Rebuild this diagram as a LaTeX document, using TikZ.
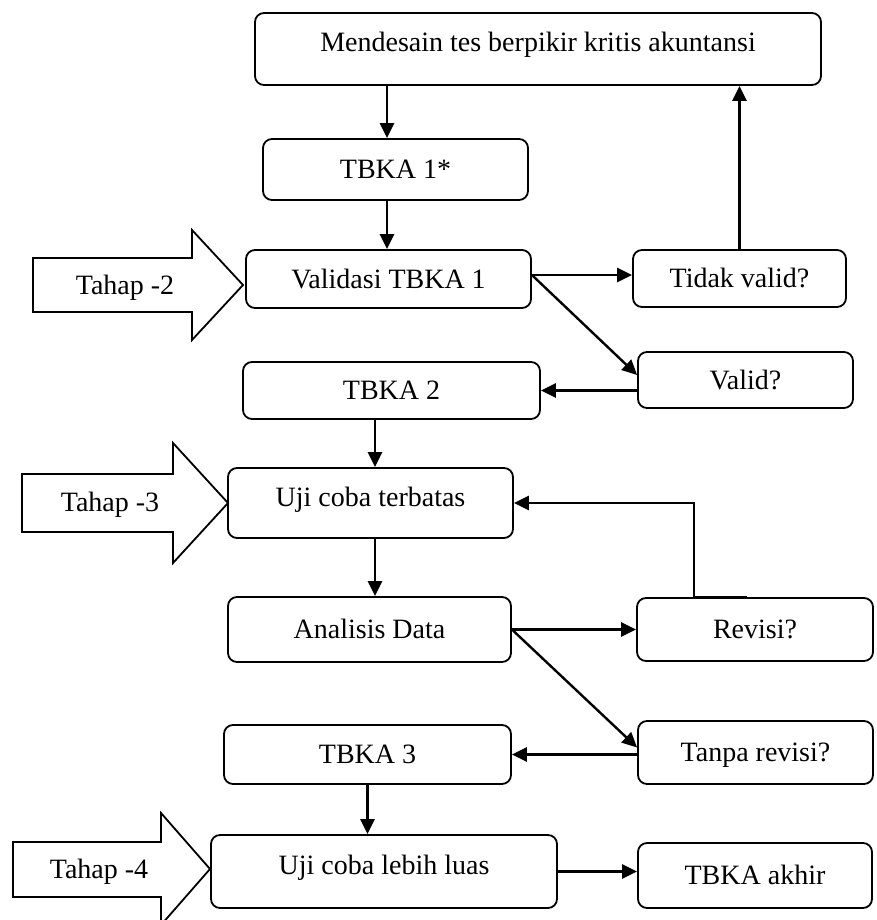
\documentclass[tikz,border=0pt]{standalone}
\usepackage{fontspec}
\setmainfont{Liberation Serif}
\usetikzlibrary{arrows.meta}

\begin{document}
\begin{tikzpicture}[
    x=1pt, y=-1pt,
    box/.style={draw, rounded corners=9pt, line width=1.8pt, inner sep=0pt,
        text height=19pt, text depth=1pt, font=\fontsize{28}{33}\selectfont},
    tallbox/.style={box, text depth=13pt},
    arrow/.style={-{Triangle[length=15pt, width=14pt]}, line width=2.4pt},
    stage/.style={line width=1.8pt, line join=miter},
    stagetext/.style={inner sep=0pt, text height=19pt, text depth=1pt, font=\fontsize{28}{33}\selectfont}
]

    % Frame
    \useasboundingbox (0,0) rectangle (876,920);
    \clip (0,0) rectangle (876,920);

    % Boxes
    \node[tallbox, minimum width=566pt, minimum height=72pt] (design) at (538,49) {Mendesain tes berpikir kritis akuntansi};
    \node[box, minimum width=265pt, minimum height=61pt] (tbka1) at (395.5,169.5) {TBKA 1*};
    \node[box, minimum width=285pt, minimum height=58pt] (valid1) at (388.5,279) {Validasi TBKA 1};
    \node[box, minimum width=213pt, minimum height=57pt] (notvalid) at (739.5,278.5) {Tidak valid?};
    \node[box, minimum width=215pt, minimum height=56pt] (isvalid) at (745.5,380) {Valid?};
    \node[box, minimum width=297pt, minimum height=57pt] (tbka2) at (391.5,390.5) {TBKA 2};
    \node[tallbox, minimum width=285pt, minimum height=70pt] (trial) at (370.5,503) {Uji coba terbatas};
    \node[box, minimum width=283pt, minimum height=65pt] (analysis) at (369.5,629.5) {Analisis Data};
    \node[box, minimum width=236pt, minimum height=63pt] (revise) at (755,629.5) {Revisi?};
    \node[box, minimum width=235pt, minimum height=63pt] (norevise) at (755.5,752.5) {Tanpa revisi?};
    \node[box, minimum width=287pt, minimum height=59pt] (tbka3) at (367.5,754.5) {TBKA 3};
    \node[tallbox, minimum width=346pt, minimum height=73pt] (widetrial) at (384,871.5) {Uji coba lebih luas};
    \node[box, minimum width=234pt, minimum height=65pt] (final) at (755,875.5) {TBKA akhir};

    % Stage arrows
    \draw[stage] (33,258) -- (192,258) -- (192,230) -- (243,285) -- (192,340) -- (192,312) -- (33,312) -- cycle;
    \node[stagetext] (stage2) at (125,285) {Tahap -2};
    \draw[stage] (22,474) -- (173,474) -- (173,443) -- (228,503) -- (173,563) -- (173,532) -- (22,532) -- cycle;
    \node[stagetext] (stage3) at (110,502) {Tahap -3};
    \draw[stage] (13,842) -- (161,842) -- (161,813) -- (210,869) -- (161,925) -- (161,897) -- (13,897) -- cycle;
    \node[stagetext] (stage4) at (99,869) {Tahap -4};

    % Connectors
    \coordinate (colA) at (387,0);
    \coordinate (colB) at (375,0);
    \draw[arrow] (design.south -| colA) -- (tbka1.north -| colA);
    \draw[arrow] (tbka1.south -| colA) -- (valid1.north -| colA);
    \draw[arrow] ([yshift=4pt]valid1.east) -- ([yshift=4pt]valid1.east -| notvalid.west);
    \draw[arrow] ([yshift=4pt]valid1.east) -- ([yshift=5pt]isvalid.west);
    \draw[arrow] (notvalid.north) -- (design.south -| notvalid.north);
    \draw[arrow] (isvalid.west |- tbka2.east) -- (tbka2.east);
    \draw[arrow] (tbka2.south -| colB) -- (trial.north -| colB);
    \draw[arrow] (trial.south -| colB) -- (analysis.north -| colB);
    \draw[arrow] (analysis.east) -- (revise.west);
    \draw[arrow] (analysis.east) -- ([yshift=5pt]norevise.west);
    \draw[arrow] ([xshift=-8pt]revise.north) -- ++(-53,0) |- (trial.east);
    \draw[arrow] (norevise.west |- tbka3.east) -- (tbka3.east);
    \draw[arrow] (tbka3.south) -- (tbka3.south |- widetrial.north);
    \draw[arrow] (widetrial.east) -- (widetrial.east -| final.west);

\end{tikzpicture}
\end{document}
